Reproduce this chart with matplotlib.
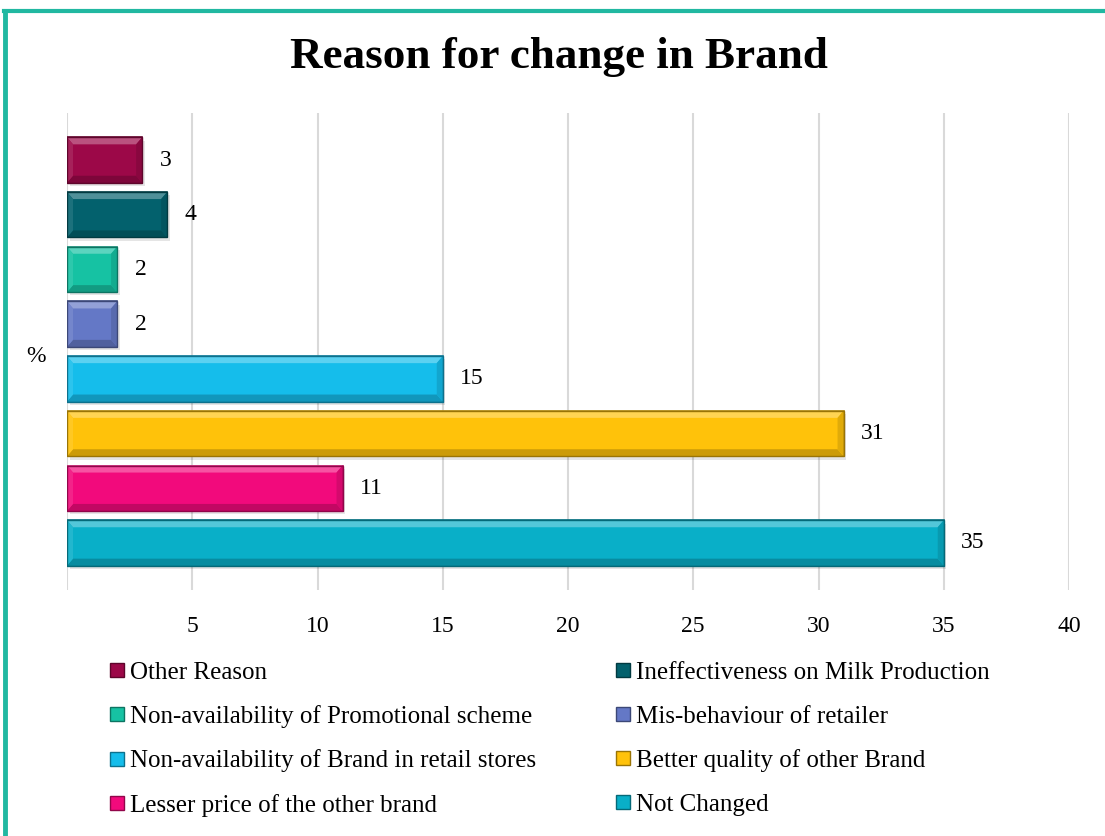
import numpy as np
from matplotlib import pyplot as plt
from matplotlib.patches import Polygon, Rectangle
from matplotlib.lines import Line2D

# Survey answers, top bar first
reasons = ["Other Reason",
           "Ineffectiveness on Milk Production",
           "Non-availability of Promotional scheme",
           "Mis-behaviour of retailer",
           "Non-availability of Brand in retail stores",
           "Better quality of other Brand",
           "Lesser price of the other brand",
           "Not Changed"]
percent = [3, 4, 2, 2, 15, 31, 11, 35]
colors = ["#9C0848", "#03616D", "#16C2A3", "#6478C6",
          "#15BDEB", "#FFC20A", "#F20A7C", "#09AFC8"]
xticks = [5, 10, 15, 20, 25, 30, 35, 40]
group_label = "%"

plt.rcParams['font.family'] = ['Liberation Serif', 'DejaVu Serif']


def shade(c, f):
    c = np.array(plt.matplotlib.colors.to_rgb(c))
    if f > 0:
        return tuple(c + (1 - c) * f)
    return tuple(c * (1 + f))


fig = plt.figure(figsize=(11.05, 8.36), dpi=100)
ax = fig.add_axes([67 / 1105, 1 - 590 / 836, (1069 - 67) / 1105, (590 - 113) / 836])

ax.set_xlim(0, 40)
ypos = np.arange(len(percent))
ax.set_ylim(len(percent) - 1 + 0.86, -0.86)
h = 0.83

# pixel size of one data unit, used for the bevel inset
px_x = (1069 - 67) / 40
px_y = (590 - 113) / (len(percent) - 1 + 1.72)
bx = 6 / px_x
by = 7 / px_y

for y, v, c in zip(ypos, percent, colors):
    top, bot = y - h / 2, y + h / 2
    # soft shadow under each bar
    ax.add_patch(Rectangle((0.1, top + 0.06), v, h, facecolor='#000000',
                           alpha=0.10, edgecolor='none', zorder=2))
    ax.barh(y, v, height=h, color=c, edgecolor=shade(c, -0.35), linewidth=1.2, zorder=3)
    # bevel: light top edge, dark bottom edge, lighter left, darker right
    ax.add_patch(Polygon([(0, top), (v, top), (v - bx, top + by), (bx, top + by)],
                         closed=True, facecolor=shade(c, 0.3), edgecolor='none', zorder=4))
    ax.add_patch(Polygon([(0, bot), (v, bot), (v - bx, bot - by), (bx, bot - by)],
                         closed=True, facecolor=shade(c, -0.2), edgecolor='none', zorder=4))
    ax.add_patch(Polygon([(0, top), (bx, top + by), (bx, bot - by), (0, bot)],
                         closed=True, facecolor=shade(c, 0.1), edgecolor='none', zorder=4))
    ax.add_patch(Polygon([(v, top), (v - bx, top + by), (v - bx, bot - by), (v, bot)],
                         closed=True, facecolor=shade(c, -0.12), edgecolor='none', zorder=4))
    ax.barh(y, v, height=h, color='none', edgecolor=shade(c, -0.4), linewidth=1.0, zorder=5)
    ax.text(v + 0.7, y, str(v), va='center', ha='left', fontsize=17, zorder=6)

ax.set_xticks(xticks)
ax.set_xticklabels([str(t) for t in xticks], fontsize=17)
ax.set_yticks([])
ax.tick_params(axis='x', length=0, pad=19)
for sp in ax.spines.values():
    sp.set_visible(False)
ax.grid(axis='x', color='#D9D9D9', linewidth=1.5, zorder=0)
ax.axvline(0, color='#D9D9D9', linewidth=1.5, zorder=0)
ax.set_axisbelow(True)

fig.text(26 / 1105, 1 - 356 / 836, group_label, fontsize=17, va='center', ha='left')

fig.text(559 / 1105, 1 - 57 / 836, "Reason for change in Brand", fontsize=32.5,
         fontweight='bold', ha='center', va='center')

# legend, filled row by row in two columns
handles = [Line2D([], [], marker='s', linestyle='none', markersize=10,
                  markerfacecolor=c, markeredgecolor=shade(c, -0.4)) for c in colors]
order = [0, 2, 4, 6, 1, 3, 5, 7]
fig.legend([handles[i] for i in order], [reasons[i] for i in order],
           ncol=2, frameon=False, fontsize=18, loc='upper left',
           bbox_to_anchor=(82 / 1105, 1 - 639 / 836),
           handletextpad=0.0, columnspacing=3.0, labelspacing=0.85,
           handlelength=1.0)

# teal frame along top and left edges
fig.add_artist(Line2D([4 / 1105, 1], [1 - 11 / 836, 1 - 11 / 836],
                      transform=fig.transFigure, color='#21B8A1', linewidth=3))
fig.add_artist(Line2D([5 / 1105, 5 / 1105], [0, 1 - 11 / 836],
                      transform=fig.transFigure, color='#21B8A1', linewidth=3.5))

fig.savefig("out.png", dpi=100)
